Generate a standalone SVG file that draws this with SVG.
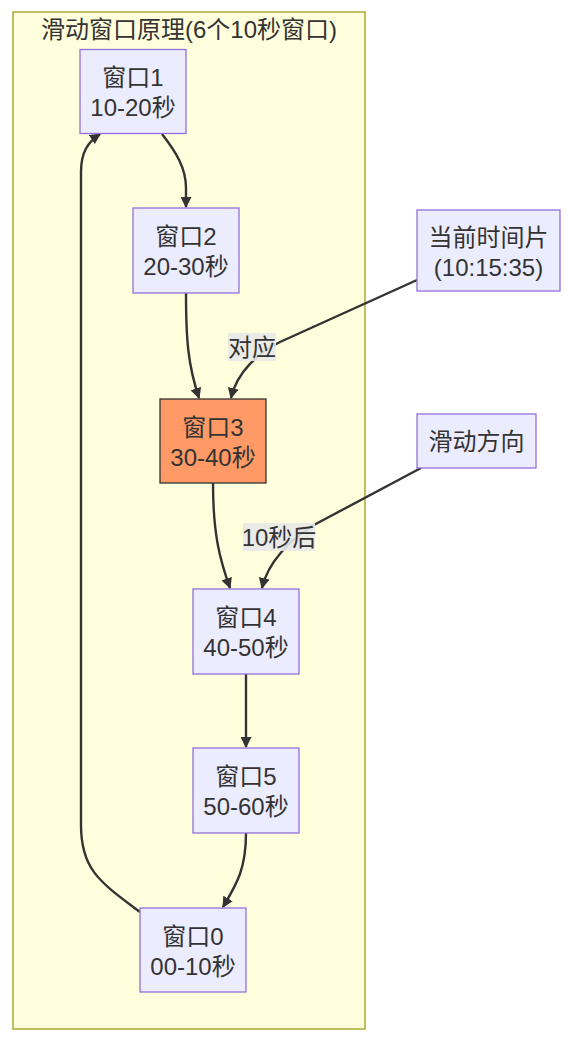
<svg xmlns="http://www.w3.org/2000/svg" width="568" height="1052" viewBox="0 0 568 1052">
<style>
text{font-family:"Liberation Sans","Noto Sans CJK SC",sans-serif;font-size:24px;fill:#333;text-anchor:middle}
.n{fill:#ECECFF;stroke:#9370DB;stroke-width:1.3}
.hot{fill:#FF9966;stroke:#333;stroke-width:1.3}
.e{fill:none;stroke:#333;stroke-width:2.4}
.lb{fill:#e8e8e8;opacity:0.9}
</style>
<defs>
<marker id="arr" markerUnits="userSpaceOnUse" viewBox="0 0 10 10" refX="9" refY="5" markerWidth="11" markerHeight="11" orient="auto">
<path d="M0,0 L10,5 L0,10 z" fill="#333"/>
</marker>
</defs>
<g id="cluster">
<rect x="13" y="12" width="352" height="1017" fill="#FFFFDE" stroke="#AAAA33" stroke-width="1.5"/>
<text x="189" y="38">滑动窗口原理(6个10秒窗口)</text>
</g>
<g id="edges">
<path class="e" d="M162,134 C176,152 186,168 186,188 L186,207" marker-end="url(#arr)"/>
<path class="e" d="M186,293 C186,340 188,365 199,398" marker-end="url(#arr)"/>
<path class="e" d="M417,280 L280,342 C258,353 237,372 231,398" marker-end="url(#arr)"/>
<path class="e" d="M213,483 C213,535 220,560 230,588" marker-end="url(#arr)"/>
<path class="e" d="M421,468 L312,526 C290,540 268,562 262,588" marker-end="url(#arr)"/>
<path class="e" d="M246,674 L246,747" marker-end="url(#arr)"/>
<path class="e" d="M246,833 C246,870 236,885 223,907" marker-end="url(#arr)"/>
<path class="e" d="M140,912 C100,882 81,870 81,825 L81,172 C81,152 88,142 100,134" marker-end="url(#arr)"/>
<g id="label-dy">
<rect class="lb" x="228" y="333" width="48" height="28"/>
<text x="252" y="356">对应</text>
</g>
<g id="label-10s">
<rect class="lb" x="243" y="523" width="72" height="28"/>
<text x="279" y="546">10秒后</text>
</g>
</g>
<g id="w1"><rect class="n" x="80" y="49.5" width="106" height="84"/><text x="133" y="86">窗口1</text><text x="133" y="116">10-20秒</text></g>
<g id="w2"><rect class="n" x="133" y="208" width="106" height="85"/><text x="186" y="245">窗口2</text><text x="186" y="275">20-30秒</text></g>
<g id="w3"><rect class="hot" x="160" y="399" width="106" height="84"/><text x="213" y="436">窗口3</text><text x="213" y="466">30-40秒</text></g>
<g id="w4"><rect class="n" x="193" y="589" width="106" height="85"/><text x="246" y="626">窗口4</text><text x="246" y="656">40-50秒</text></g>
<g id="w5"><rect class="n" x="193" y="748" width="106" height="85"/><text x="246" y="785">窗口5</text><text x="246" y="815">50-60秒</text></g>
<g id="w0"><rect class="n" x="140" y="908" width="106" height="84"/><text x="193" y="945">窗口0</text><text x="193" y="975">00-10秒</text></g>
<g id="cur"><rect class="n" x="417" y="210" width="143" height="81"/><text x="488.5" y="246">当前时间片</text><text x="488.5" y="276">(10:15:35)</text></g>
<g id="dir"><rect class="n" x="417" y="414" width="119" height="54"/><text x="476.5" y="450">滑动方向</text></g>
</svg>
